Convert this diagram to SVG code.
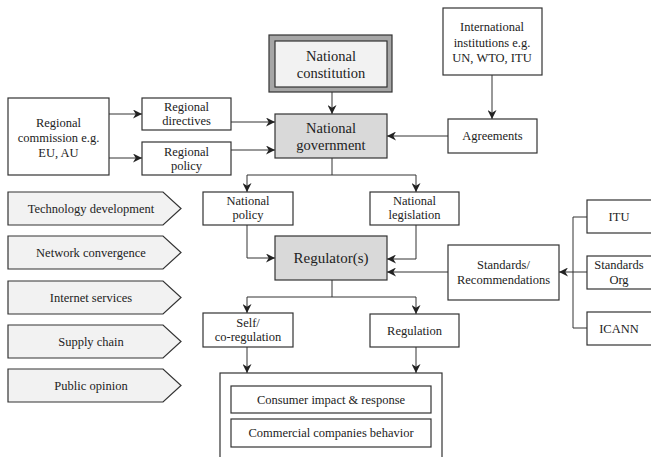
<svg xmlns="http://www.w3.org/2000/svg" width="651" height="457" viewBox="0 0 651 457">
  <defs>
    <marker id="arr" viewBox="0 0 10 10" refX="10" refY="5" markerWidth="9" markerHeight="9" markerUnits="userSpaceOnUse" orient="auto">
      <path d="M0,0 L10,5 L0,10 L3,5 z" fill="#222"/>
    </marker>
    <style>
      .box { fill: #ffffff; stroke: #333; stroke-width: 1.2; }
      .grey { fill: #d9d9d9; stroke: #333; stroke-width: 1.2; }
      .light { fill: #f2f2f2; stroke: #333; stroke-width: 1.2; }
      .frame { fill: #a6a6a6; stroke: #333; stroke-width: 1.2; }
      .conn { fill: none; stroke: #333; stroke-width: 1; }
      .arrow { marker-end: url(#arr); }
      text { fill: #222; text-anchor: middle; }
      .s { font-size: 12.5px; }
      .m { font-size: 12.5px; }
      .l { font-size: 14.5px; }
      .r { font-size: 15px; }
    </style>
  </defs>

  <!-- connectors -->
  <g id="connectors">
    <path class="conn arrow" d="M109,114 H142"/>
    <path class="conn arrow" d="M109,158 H142"/>
    <path class="conn arrow" d="M231,122 H275"/>
    <path class="conn arrow" d="M231,150 H275"/>
    <path class="conn arrow" d="M332,92 V114"/>
    <path class="conn arrow" d="M492,75 V119"/>
    <path class="conn arrow" d="M448,136 H387"/>
    <path class="conn" d="M332,158 V175 M247,175 H416"/>
    <path class="conn arrow" d="M247,175 V192"/>
    <path class="conn arrow" d="M416,175 V192"/>
    <path class="conn arrow" d="M247,225 V258 H275"/>
    <path class="conn arrow" d="M416,225 V259 H387"/>
    <path class="conn arrow" d="M448,272 H387"/>
    <path class="conn" d="M587,217 H573 V328 H587"/>
    <path class="conn arrow" d="M587,272 H559"/>
    <path class="conn" d="M332,280 V297 M247,297 H416"/>
    <path class="conn arrow" d="M247,297 V313"/>
    <path class="conn arrow" d="M416,297 V314"/>
    <path class="conn arrow" d="M247,347 V373"/>
    <path class="conn arrow" d="M416,347 V373"/>
  </g>

  <g font-family="'Liberation Serif', 'DejaVu Serif', 'Noto Serif', 'Times New Roman', serif">
  <g id="national-constitution">
    <rect class="frame" x="269" y="35" width="123" height="57"/>
    <rect class="light" x="275" y="41" width="112" height="46"/>
    <text class="l" x="331" y="61">National</text>
    <text class="l" x="331" y="78">constitution</text>
  </g>

  <g id="international-institutions">
    <rect class="box" x="443" y="8" width="99" height="67"/>
    <text class="s" x="492" y="31">International</text>
    <text class="s" x="492" y="47">institutions e.g.</text>
    <text class="s" x="492" y="62">UN, WTO, ITU</text>
  </g>

  <g id="regional-commission">
    <rect class="box" x="8" y="98" width="101" height="77"/>
    <text class="m" x="58.5" y="127">Regional</text>
    <text class="m" x="58.5" y="142">commission e.g.</text>
    <text class="m" x="58.5" y="157">EU, AU</text>
  </g>

  <g id="regional-directives">
    <rect class="box" x="142" y="98" width="89" height="32"/>
    <text class="s" x="186.5" y="111">Regional</text>
    <text class="s" x="186.5" y="125">directives</text>
  </g>

  <g id="regional-policy">
    <rect class="box" x="142" y="142" width="89" height="33"/>
    <text class="s" x="186.5" y="156">Regional</text>
    <text class="s" x="186.5" y="170">policy</text>
  </g>

  <g id="national-government">
    <rect class="grey" x="275" y="114" width="112" height="44"/>
    <text class="l" x="331" y="133">National</text>
    <text class="l" x="331" y="150">government</text>
  </g>

  <g id="agreements">
    <rect class="box" x="448" y="119" width="89" height="34"/>
    <text class="s" x="492.5" y="140">Agreements</text>
  </g>

  <g id="technology-development">
    <path class="light" d="M8,192 H163 L181,208.5 L163,225 H8 z"/>
    <text class="s" x="91" y="213">Technology development</text>
  </g>
  <g id="network-convergence">
    <path class="light" d="M8,236 H163 L181,252.5 L163,269 H8 z"/>
    <text class="s" x="91" y="257">Network convergence</text>
  </g>
  <g id="internet-services">
    <path class="light" d="M8,281 H163 L181,297.5 L163,314 H8 z"/>
    <text class="s" x="91" y="302">Internet services</text>
  </g>
  <g id="supply-chain">
    <path class="light" d="M8,325 H163 L181,341.5 L163,358 H8 z"/>
    <text class="s" x="91" y="346">Supply chain</text>
  </g>
  <g id="public-opinion">
    <path class="light" d="M8,369 H163 L181,385.5 L163,402 H8 z"/>
    <text class="s" x="91" y="390">Public opinion</text>
  </g>

  <g id="national-policy">
    <rect class="box" x="203" y="192" width="90" height="33"/>
    <text class="s" x="248" y="205">National</text>
    <text class="s" x="248" y="219">policy</text>
  </g>

  <g id="national-legislation">
    <rect class="box" x="370" y="192" width="89" height="33"/>
    <text class="s" x="414.5" y="205">National</text>
    <text class="s" x="414.5" y="219">legislation</text>
  </g>

  <g id="regulators">
    <rect class="grey" x="275" y="236" width="112" height="44"/>
    <text class="r" x="331" y="263">Regulator(s)</text>
  </g>

  <g id="standards-recommendations">
    <rect class="box" x="448" y="245" width="111" height="55"/>
    <text class="s" x="503.5" y="269">Standards/</text>
    <text class="s" x="503.5" y="284">Recommendations</text>
  </g>

  <g id="itu">
    <rect class="box" x="587" y="200" width="70" height="33"/>
    <text class="s" x="619" y="221">ITU</text>
  </g>
  <g id="standards-org">
    <rect class="box" x="587" y="256" width="70" height="33"/>
    <text class="s" x="619" y="269">Standards</text>
    <text class="s" x="619" y="284">Org</text>
  </g>
  <g id="icann">
    <rect class="box" x="587" y="312" width="70" height="33"/>
    <text class="s" x="619" y="333">ICANN</text>
  </g>

  <g id="self-co-regulation">
    <rect class="box" x="203" y="313" width="90" height="34"/>
    <text class="s" x="248" y="327">Self/</text>
    <text class="s" x="248" y="341">co-regulation</text>
  </g>

  <g id="regulation">
    <rect class="box" x="370" y="314" width="89" height="33"/>
    <text class="s" x="414.5" y="335">Regulation</text>
  </g>

  <g id="market-response">
    <rect class="box" x="220" y="373" width="222" height="100"/>
    <rect class="box" x="231" y="386" width="200" height="27"/>
    <text class="s" x="331" y="404">Consumer impact &amp; response</text>
    <rect class="box" x="231" y="419" width="200" height="28"/>
    <text class="s" x="331" y="437">Commercial companies behavior</text>
  </g>
  </g>
</svg>
